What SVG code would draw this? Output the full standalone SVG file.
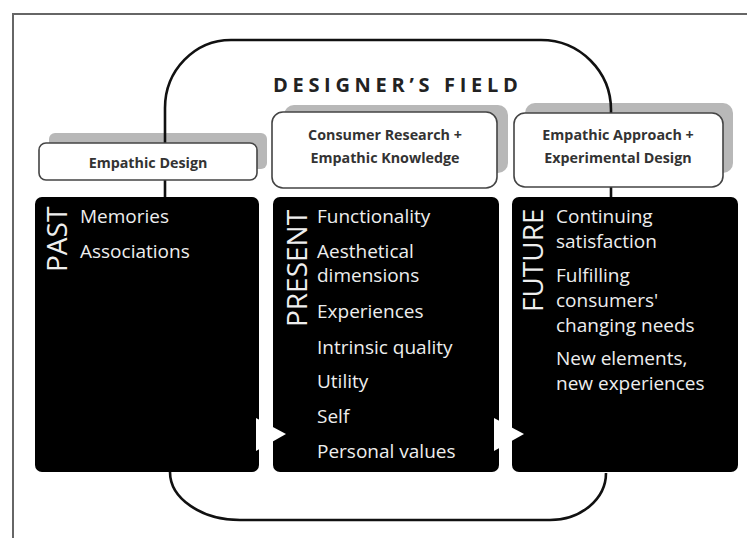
<svg xmlns="http://www.w3.org/2000/svg" width="747" height="538" viewBox="0 0 747 538">
<style>
.frame{fill:none;stroke:#666;stroke-width:2}
.loop{fill:none;stroke:#111;stroke-width:2.6}
.shadow{fill:#b8b8b8}
.hbox{fill:#fff;stroke:#444;stroke-width:1.6}
.htxt{font-family:"Open Sans","DejaVu Sans",sans-serif;font-size:14.3px;font-weight:700;fill:#333;text-anchor:middle}
.title{font-family:"Open Sans","DejaVu Sans",sans-serif;font-size:20px;font-weight:700;fill:#222;letter-spacing:4.7px}
.bbox{fill:#000}
.vtxt{font-family:"Open Sans","DejaVu Sans",sans-serif;font-size:28px;fill:#eee}
.ltxt{font-family:"Open Sans","DejaVu Sans",sans-serif;font-size:19px;fill:#eee}
.arrow{fill:#fff}
</style>
<rect width="747" height="538" fill="#fff"/>
<path class="frame" d="M13,538 V14 H747"/>
<text class="title" x="273" y="92">DESIGNER’S FIELD</text>
<g id="shadows">
<rect class="shadow" x="49" y="133" width="218" height="36" rx="6"/>
<rect class="shadow" x="284" y="105" width="224" height="68" rx="10"/>
<rect class="shadow" x="525" y="103" width="208" height="70" rx="10"/>
</g>
<g id="connectors">
<path class="loop" d="M165,197 V108 A66,68 0 0 1 231,40 H541 A70,70 0 0 1 611,110 V197"/>
<path class="loop" d="M170,472 A70,48 0 0 0 240,520 H550 A56,47 0 0 0 606,473"/>
</g>
<g id="node-empathic-design">
<rect class="hbox" x="39" y="143" width="218" height="37" rx="7"/>
<text class="htxt" x="148" y="168">Empathic Design</text>
</g>
<g id="node-consumer-research">
<rect class="hbox" x="272" y="112" width="225" height="76" rx="11"/>
<text class="htxt" x="385" y="140">Consumer Research +</text>
<text class="htxt" x="385" y="163">Empathic Knowledge</text>
</g>
<g id="node-empathic-approach">
<rect class="hbox" x="514" y="113" width="209" height="74" rx="11"/>
<text class="htxt" x="618" y="140">Empathic Approach +</text>
<text class="htxt" x="618" y="163">Experimental Design</text>
</g>
<g id="node-past">
<rect class="bbox" x="35" y="197" width="224" height="275" rx="7"/>
<text class="vtxt" transform="translate(67,272) rotate(-90)">PAST</text>
<text class="ltxt" x="80" y="223">Memories</text>
<text class="ltxt" x="80" y="258">Associations</text>
</g>
<g id="node-present">
<rect class="bbox" x="273" y="197" width="226" height="275" rx="7"/>
<text class="vtxt" transform="translate(307,327) rotate(-90)">PRESENT</text>
<text class="ltxt" x="317" y="223">Functionality</text>
<text class="ltxt" x="317" y="258">Aesthetical</text>
<text class="ltxt" x="317" y="282">dimensions</text>
<text class="ltxt" x="317" y="318">Experiences</text>
<text class="ltxt" x="317" y="354">Intrinsic quality</text>
<text class="ltxt" x="317" y="388">Utility</text>
<text class="ltxt" x="317" y="423">Self</text>
<text class="ltxt" x="317" y="458">Personal values</text>
</g>
<g id="node-future">
<rect class="bbox" x="512" y="197" width="226" height="275" rx="7"/>
<text class="vtxt" transform="translate(543,312) rotate(-90)">FUTURE</text>
<text class="ltxt" x="556" y="223">Continuing</text>
<text class="ltxt" x="556" y="248">satisfaction</text>
<text class="ltxt" x="556" y="282">Fulfilling</text>
<text class="ltxt" x="556" y="307">consumers'</text>
<text class="ltxt" x="556" y="332">changing needs</text>
<text class="ltxt" x="556" y="365">New elements,</text>
<text class="ltxt" x="556" y="390">new experiences</text>
</g>
<g id="arrows">
<polygon class="arrow" points="256,418 286,434 256,451"/>
<polygon class="arrow" points="494,418 524,434 494,451"/>
</g>
</svg>
